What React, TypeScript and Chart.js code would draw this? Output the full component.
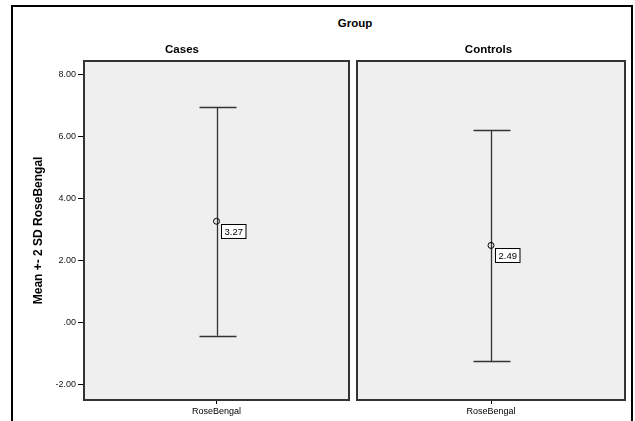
import React, { useEffect, useRef } from "react";
import { Chart, registerables } from "chart.js";
Chart.register(...registerables);

const groupTitle = "Group";
const groups = ["Cases", "Controls"];
const variable = ["RoseBengal"];
const means = [3.27, 2.49];
const sds = [1.845, 1.86];
const yTicks = [-2, 0, 2, 4, 6, 8];
const yMin = -2.5;
const yMax = 8.45;
const yTitle = "Mean +- 2 SD RoseBengal";

const FONT = "Arial, 'Liberation Sans', sans-serif";
Chart.defaults.font.family = FONT;

const fmt = (v: number) => (v === 0 ? ".00" : v.toFixed(2));

const panelPlugin = {
  id: "panelPlugin",
  beforeDraw(chart: any) {
    const { ctx, chartArea: a } = chart;
    ctx.save();
    ctx.fillStyle = "#efefef";
    ctx.fillRect(a.left, a.top, a.right - a.left, a.bottom - a.top);
    ctx.restore();
  },
  beforeDatasetsDraw(chart: any) {
    const { ctx } = chart;
    const idx = chart.options.plugins.panelPlugin.index;
    const meta = chart.getDatasetMeta(0);
    const pt = meta.data[0];
    if (!pt) return;
    const ys = chart.scales.y;
    const x = Math.round(pt.x) + 0.5;
    const top = ys.getPixelForValue(means[idx] + 2 * sds[idx]);
    const bot = ys.getPixelForValue(means[idx] - 2 * sds[idx]);
    ctx.save();
    ctx.strokeStyle = "#333";
    ctx.lineWidth = 1.3;
    ctx.beginPath();
    ctx.moveTo(x, top);
    ctx.lineTo(x, bot);
    ctx.moveTo(x - 18, Math.round(top) + 0.5);
    ctx.lineTo(x + 19, Math.round(top) + 0.5);
    ctx.moveTo(x - 18, Math.round(bot) + 0.5);
    ctx.lineTo(x + 19, Math.round(bot) + 0.5);
    ctx.stroke();
    ctx.restore();
  },
  afterDatasetsDraw(chart: any) {
    const { ctx } = chart;
    const idx = chart.options.plugins.panelPlugin.index;
    const pt = chart.getDatasetMeta(0).data[0];
    if (!pt) return;
    const text = means[idx].toFixed(2);
    ctx.save();
    ctx.font = `9.5px ${FONT}`;
    const w = ctx.measureText(text).width + 6;
    const h = 14;
    const bx = Math.round(pt.x) + 4.5;
    const by = Math.round(pt.y) + 3.5;
    ctx.fillStyle = "#fff";
    ctx.fillRect(bx, by, w, h);
    ctx.strokeStyle = "#000";
    ctx.lineWidth = 1;
    ctx.strokeRect(bx, by, w, h);
    ctx.fillStyle = "#000";
    ctx.textBaseline = "middle";
    ctx.textAlign = "left";
    ctx.fillText(text, bx + 3, by + h / 2 + 0.5);
    ctx.restore();
  },
  afterDraw(chart: any) {
    const { ctx, chartArea: a } = chart;
    ctx.save();
    ctx.strokeStyle = "#333";
    ctx.lineWidth = 2;
    ctx.strokeRect(Math.round(a.left), Math.round(a.top), Math.round(a.right - a.left), Math.round(a.bottom - a.top));
    ctx.restore();
  },
};

function makeConfig(idx: number, showY: boolean, padding: any): any {
  return {
    type: "line",
    data: {
      labels: variable,
      datasets: [
        {
          data: [means[idx]],
          showLine: false,
          pointRadius: 3,
          pointBorderWidth: 1,
          pointBorderColor: "#000",
          pointBackgroundColor: "rgba(0,0,0,0)",
        },
      ],
    },
    plugins: [panelPlugin],
    options: {
      animation: false,
      responsive: false,
      maintainAspectRatio: false,
      layout: { padding },
      plugins: {
        legend: { display: false },
        tooltip: { enabled: false },
        title: {
          display: true,
          text: groups[idx],
          color: "#000",
          font: { size: 11.5, weight: "bold", family: FONT },
          padding: { top: 13, bottom: 4 },
        },
        panelPlugin: { index: idx },
      },
      scales: {
        x: {
          type: "category",
          offset: true,
          grid: { display: true, drawOnChartArea: false, offset: false, tickLength: 4, color: "#000" },
          border: { display: false },
          ticks: { color: "#000", font: { size: 9, family: FONT }, padding: 2, maxRotation: 0 },
          afterFit: (s: any) => {
            s.height = 21;
          },
        },
        y: {
          display: showY,
          min: yMin,
          max: yMax,
          afterBuildTicks: (s: any) => {
            s.ticks = yTicks.map((v) => ({ value: v }));
          },
          grid: { display: true, drawOnChartArea: false, tickLength: 6, color: "#000" },
          border: { display: false },
          ticks: {
            color: "#111",
            font: { size: 9, family: FONT },
            padding: 2,
            callback: (v: any) => fmt(Number(v)),
          },
          title: {
            display: true,
            text: yTitle,
            color: "#000",
            font: { size: 12, weight: "bold", family: FONT },
            padding: { top: 19, bottom: 0 },
          },
          afterFit: (s: any) => {
            s.width = showY ? 72 : 0;
          },
        },
      },
    },
  };
}

export default function App() {
  const leftRef = useRef<HTMLCanvasElement>(null);
  const rightRef = useRef<HTMLCanvasElement>(null);

  useEffect(() => {
    document.body.style.margin = "0";
    const c1 = new Chart(leftRef.current!, makeConfig(0, true, { left: 0, right: 2, top: 0, bottom: 0 }));
    const c2 = new Chart(rightRef.current!, makeConfig(1, false, { left: 0, right: 7, top: 0, bottom: 0 }));
    return () => {
      c1.destroy();
      c2.destroy();
    };
  }, []);

  return (
    <div style={{ position: "absolute", left: 0, top: 0, width: 635, height: 421, background: "#fff", overflow: "hidden" }}>
      <div
        style={{
          position: "absolute",
          left: 11,
          top: 5,
          width: 622,
          height: 500,
          boxSizing: "border-box",
          border: "2px solid #000",
        }}
      />
      <div
        style={{
          position: "absolute",
          left: 255,
          top: 17,
          width: 200,
          textAlign: "center",
          font: `bold 11.5px ${FONT}`,
          color: "#000",
        }}
      >
        {groupTitle}
      </div>
      <canvas ref={leftRef} width={342} height={391} style={{ position: "absolute", left: 12, top: 30, width: 342, height: 391 }} />
      <canvas ref={rightRef} width={280} height={391} style={{ position: "absolute", left: 352, top: 30, width: 280, height: 391 }} />
    </div>
  );
}
